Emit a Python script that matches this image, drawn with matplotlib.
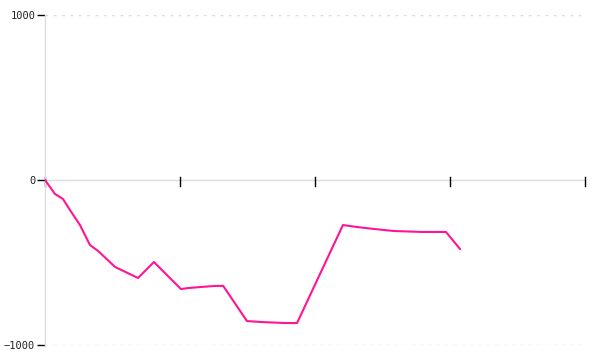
import matplotlib
matplotlib.use('Agg')
import matplotlib.pyplot as plt

# x positions (arbitrary units, axis runs 0..40) and values
X_VALUES = [0, 0.74, 1.33, 1.85, 2.59, 3.33, 3.93, 5.19, 6.89, 8.07, 10.07, 10.6,
            11.6, 12.67, 13.2, 14.96, 16.07, 17.78, 18.67, 22.07, 23.1, 24.4,
            25.8, 27.9, 29.7, 30.74]
Y_VALUES = [0, -85, -115, -182, -273, -394, -430, -527, -594, -497, -661, -655,
            -648, -642, -642, -855, -861, -867, -867, -273, -285, -297,
            -309, -315, -315, -418]
X_TICKS = [0, 10, 20, 30, 40]
Y_TICKS = [-1000, 0, 1000]
Y_LABELS = ['\u22121000', '0', '1000']

fig = plt.figure(figsize=(6, 3.6), dpi=100)
ax = fig.add_axes([0.075, 0.0417, 0.9, 0.9167])

ax.plot(X_VALUES, Y_VALUES, color='#ff1493', linewidth=1.5, zorder=3)

ax.set_xlim(0, 40)
ax.set_ylim(-1000, 1000)

for s in ['top', 'right', 'bottom']:
    ax.spines[s].set_visible(False)
ax.spines['left'].set_color('#dddddd')
ax.spines['left'].set_linewidth(1)

# zero line acts as the x axis
ax.axhline(0, color='#dddddd', linewidth=1, zorder=1)
for yv in [-1000, 1000]:
    ax.axhline(yv, color='#dddddd', linewidth=1, linestyle=(0, (2, 4)), zorder=1)

ax.set_yticks(Y_TICKS)
ax.set_yticklabels(Y_LABELS, fontfamily='DejaVu Sans Mono', fontsize=7.5, color='#222222')
ax.tick_params(axis='y', length=6, width=1, color='black', pad=1)

ax.set_xticks([])
for xv in X_TICKS:
    ax.plot([xv, xv], [-38, 20], color='black', linewidth=1, zorder=2, clip_on=False)

fig.savefig('out.png', dpi=100)
